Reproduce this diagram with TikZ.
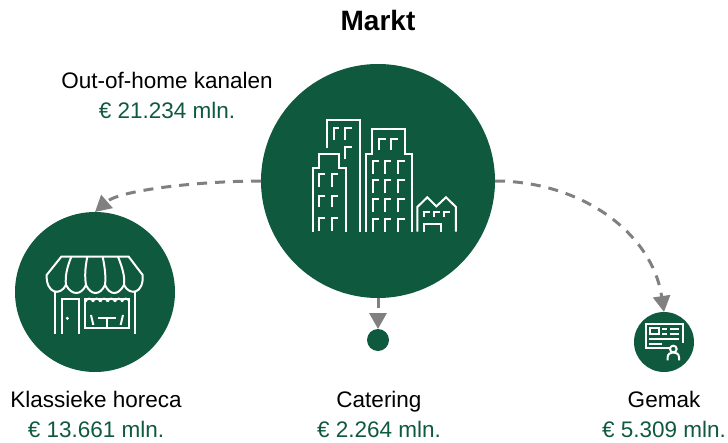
\documentclass[tikz,border=0pt]{standalone}
\usepackage{fontspec}
\setmainfont{Liberation Sans}
\usetikzlibrary{arrows.meta}
\definecolor{dgreen}{HTML}{0F5A3E}
\definecolor{agray}{HTML}{808080}
\tikzset{
 disc/.style={circle,fill=dgreen,draw=none,inner sep=0pt,outer sep=0pt},
 lab/.style={font=\fontsize{22.5}{26}\selectfont,text=black,inner sep=0pt,anchor=base},
 val/.style={font=\fontsize{22.5}{26}\selectfont,text=dgreen,inner sep=0pt,anchor=base},
 conn/.style={draw=agray,line width=3pt,dash pattern=on 10pt off 8pt,-{Triangle[length=16pt,width=17pt,fill=agray]}},
 ico/.style={draw=white,line width=2pt,line join=miter,fill=none},
}
\begin{document}
\begin{tikzpicture}[x=1pt,y=-1pt]
\useasboundingbox (0,0) rectangle (728,442);
\node[disc,minimum size=234pt] (main) at (378,181) {};
\node[disc,minimum size=160pt] (horeca) at (95,292) {};
\node[disc,minimum size=22pt] (cat) at (378,340) {};
\node[disc,minimum size=60pt] (gem) at (664,342) {};
\node[lab,font=\fontsize{28}{32}\selectfont\bfseries] (title) at (378,30) {Markt};
\node[lab] (l1) at (167,88) {Out-of-home kanalen};
\node[val] (v1) at (167,118) {€ 21.234 mln.};
\node[lab] (l2) at (96,407) {Klassieke horeca};
\node[val] (v2) at (96,437) {€ 13.661 mln.};
\node[lab] (l3) at (379,407) {Catering};
\node[val] (v3) at (379,437) {€ 2.264 mln.};
\node[lab] (l4) at (664,407) {Gemak};
\node[val] (v4) at (664,437) {€ 5.309 mln.};
\draw[conn] (main.180) .. controls (200,181) and (120,190) .. (horeca.north);
\draw[conn] (main.0) .. controls (580,181) and (652,232) .. (gem.north);
\draw[conn] (main.south) -- (cat.north);
% city icon
\begin{scope}[shift={(290,100)},x=0.3333pt,y=-0.3333pt,ico]
\draw (110,145) -- (110,60) -- (210,60) -- (210,395);
\draw (133,120) -- (133,85) -- (148,85);
\draw (165,120) -- (165,85) -- (186,85);
\draw (165,178) -- (165,142) -- (186,142);
\draw (68,395) -- (68,203) -- (87,203) -- (87,163) -- (148,163) -- (148,203) -- (167,203) -- (167,395);
\foreach \y/\e in {222/262,288/322,354/393}{
 \draw (87,\e) -- (87,\y) -- (105,\y);
 \draw (125,\e) -- (125,\y) -- (145,\y);
}
\draw (227,395) -- (227,163) -- (245,163) -- (245,87) -- (346,87) -- (346,163) -- (365,163) -- (365,395);
\draw (267,150) -- (267,116) -- (287,116);
\draw (304,150) -- (304,116) -- (324,116);
\foreach \y/\e in {183/222,241/280,298/337,356/395}{
 \draw (248,\e) -- (248,\y) -- (266,\y);
 \draw (286,\e) -- (286,\y) -- (304,\y);
 \draw (325,\e) -- (325,\y) -- (345,\y);
}
\draw (382,395) -- (382,321) -- (412,292) -- (439,319) -- (468,292) -- (498,321) -- (498,395);
\draw (402,350) -- (402,335) -- (420,335);
\draw (433,350) -- (433,335) -- (451,335);
\draw (463,350) -- (463,335) -- (481,335);
\draw (402,395) -- (402,372) -- (453,372) -- (453,395);
\end{scope}
% shop icon
\begin{scope}[shift={(30,230)},x=0.3333pt,y=-0.3333pt,ico]
\draw (94,80) -- (296,80) -- (338,135) .. controls (342,190) and (300,200) .. (282,165) .. controls (265,197) and (240,197) .. (225,165) .. controls (210,197) and (183,197) .. (168,165) .. controls (153,197) and (125,197) .. (108,165) .. controls (90,200) and (48,190) .. (50,135) -- cycle;
\draw (124,80) .. controls (110,115) and (105,140) .. (108,165);
\draw (172,80) .. controls (165,115) and (164,140) .. (168,165);
\draw (218,80) .. controls (225,115) and (228,140) .. (225,165);
\draw (264,80) .. controls (278,115) and (285,140) .. (282,165);
\draw (74,183) -- (74,312);
\draw (316,183) -- (316,312);
\draw (96,312) -- (96,207) -- (147,207) -- (147,312);
\fill[white] (112,265) circle (5);
\draw (165,295) -- (165,207) -- (298,207) -- (298,295) -- cycle;
\foreach \x in {178,200,222,244,266,287}{\draw (\x-11,215) arc (180:0:11 and -9);}
\draw (183,255) -- (190,285);
\draw (279,255) -- (272,285);
\draw (205,265) -- (258,265);
\draw (232,265) -- (232,290);
\end{scope}
% id icon
\begin{scope}[shift={(620,280)},x=0.3333pt,y=-0.3333pt,ico]
\draw (150,203) -- (78,203) -- (78,132) -- (190,132) -- (190,190);
\draw (90,145) rectangle (118,162);
\draw (126,147) -- (140,147);\draw (150,147) -- (178,147);
\draw (126,163) -- (140,163);\draw (150,163) -- (178,163);
\draw (88,178) -- (178,178);
\draw (88,192) -- (125,192);
\draw (160,207) circle (10);
\draw (143,241) -- (143,232) .. controls (143,212) and (177,212) .. (177,232) -- (177,241);
\end{scope}
\end{tikzpicture}
\end{document}
